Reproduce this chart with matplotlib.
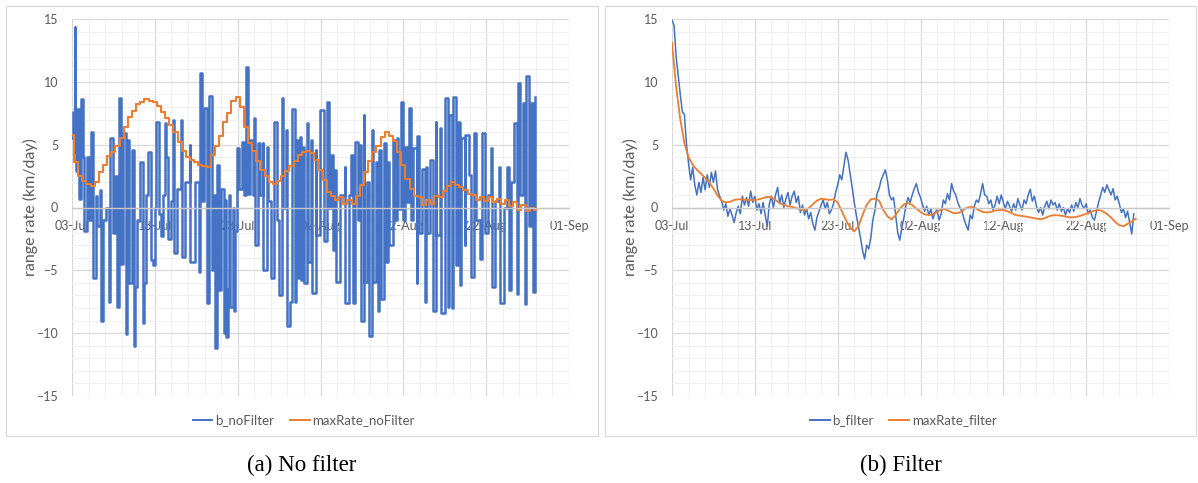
import numpy as np
import matplotlib
matplotlib.use('Agg')
import matplotlib.pyplot as plt
from matplotlib.patches import Rectangle
from matplotlib.lines import Line2D
from matplotlib.ticker import MultipleLocator

# x axis: days since 03-Jul
date_ticks = [0, 10, 20, 30, 40, 50, 60]
date_labels = ['03-Jul', '13-Jul', '23-Jul', '02-Aug', '12-Aug', '22-Aug', '01-Sep']

# (a) b_noFilter: read spike by spike (day, km/day)
nofilter_t = [
    0.00, 0.10, 0.33, 0.42, 0.50, 0.64, 0.80, 1.12, 1.29, 1.49,
    1.85, 2.10, 2.33, 2.50, 2.86, 3.05, 3.38, 3.54, 3.80, 4.10,
    4.50, 4.59, 4.90, 5.20, 5.47, 5.72, 5.95, 6.20, 6.53, 6.70,
    6.90, 7.20, 7.49, 7.65, 7.90, 8.20, 8.53, 8.65, 8.95, 9.20,
    9.50, 9.82, 10.00, 10.20, 10.50, 10.80, 11.00, 11.20, 11.40, 11.60,
    11.90, 12.20, 12.30, 12.70, 13.20, 13.30, 13.70, 14.25, 14.30, 14.80,
    15.30, 15.46, 15.70, 15.98, 16.30, 16.50, 16.90, 17.10, 17.30, 17.50,
    17.70, 18.00, 18.30, 18.50, 18.60, 18.80, 19.00, 19.10, 19.40, 19.50,
    19.70, 19.97, 20.20, 20.50, 20.80, 21.00, 21.30, 21.50, 21.80, 22.00,
    22.10, 22.50, 22.70, 23.00, 23.10, 23.50, 23.70, 24.00, 24.40, 24.70,
    25.00, 25.30, 25.50, 25.80, 26.00, 26.30, 26.50, 26.90, 27.00, 27.30,
    27.50, 27.70, 27.90, 28.00, 28.40, 28.45, 28.90, 28.95, 29.40, 29.45,
    29.95, 30.40, 30.80, 31.00, 31.30, 31.50, 31.80, 31.90, 32.40, 32.90,
    32.95, 33.40, 33.70, 33.90, 34.20, 34.50, 34.70, 34.90, 35.20, 35.30,
    35.60, 35.90, 36.20, 36.30, 36.70, 36.90, 37.10, 37.30, 37.70, 37.90,
    38.20, 38.30, 38.70, 39.00, 39.20, 39.40, 39.70, 39.90, 40.20, 40.40,
    40.70, 40.90, 41.20, 41.60, 41.70, 41.90, 42.20, 42.60, 42.70, 42.90,
    43.20, 43.60, 43.90, 44.00, 44.40, 44.50, 45.00, 45.40, 45.50, 45.90,
    46.00, 46.40, 46.60, 46.90, 47.00, 47.40, 47.50, 47.90, 48.20, 48.50,
    48.80, 49.30, 49.50, 49.90, 50.20, 50.60, 50.70, 51.10, 51.60, 51.70,
    52.10, 52.50, 52.70, 53.00, 53.40, 53.70, 53.80, 54.10, 54.40, 54.70,
    54.80, 55.20, 55.40, 55.70, 55.90,
]
nofilter_v = [
    5.5, 7.6, 14.4, 4.4, 2.9, 7.8, 0.7, 8.6, 4.0, -1.9,
    4.0, -1.0, 6.0, -5.6, 0.9, -1.5, 1.4, -9.0, -1.0, 0.0,
    -7.5, 5.5, -2.0, 2.5, -7.9, 8.7, -4.5, 5.9, -10.1, 5.4,
    -6.0, 4.6, -11.0, -6.3, -1.0, 3.6, -9.2, -6.0, 1.0, 4.4,
    -4.2, -4.6, 0.0, 6.8, -0.5, -2.3, 1.0, 6.7, 4.0, -2.5,
    0.5, 7.0, -3.6, 1.5, 7.0, -3.9, 2.0, 5.0, -4.3, 2.0,
    -5.1, 10.7, 0.5, 7.9, -7.6, 8.9, -5.0, 1.0, -11.2, 3.4,
    -6.6, 1.5, -10.0, 0.6, -10.3, -6.5, 1.0, -7.9, 0.0, -8.2,
    -1.9, 4.7, 1.5, 5.2, 1.0, 11.2, 1.1, 5.4, 1.0, 7.1,
    -3.0, 5.1, 1.0, 5.1, -5.0, 4.8, 0.5, -5.6, 6.8, -1.0,
    -7.0, 8.7, 0.0, 6.2, -9.4, -7.5, 7.8, -7.5, 5.4, -5.6,
    5.6, -5.8, 4.8, -6.0, 6.7, -4.3, 5.4, -6.8, 4.6, -2.2,
    7.75, -2.7, 8.4, 0.0, 4.2, -3.4, 3.0, -5.9, 1.0, 3.2,
    -7.6, 1.0, 4.2, -7.6, 5.2, -1.0, 5.0, -9.0, 7.4, -5.9,
    2.0, -10.2, 6.2, -5.9, 3.6, -8.2, 4.6, -7.3, 5.1, -4.3,
    3.6, -3.0, 5.4, -1.0, 5.5, -0.1, 8.4, -1.0, 4.8, 0.4,
    7.9, -1.0, 4.7, -6.0, 5.7, -2.0, 3.1, -7.5, 3.2, -2.0,
    3.8, -8.2, 6.8, -2.2, 6.3, -8.4, 8.7, -7.9, 7.4, -8.0,
    8.8, -4.6, 6.8, -6.2, 5.5, -3.0, 5.8, 2.6, -5.5, 5.9,
    -1.0, -4.1, 5.9, -2.0, 1.0, 4.7, -6.3, 0.5, 3.2, -7.6,
    0.0, 3.2, -6.6, 2.0, 6.7, -6.9, 9.9, 1.0, 8.3, -7.7,
    10.5, -1.5, 8.3, -6.7, 8.8,
]

# (a) maxRate_noFilter, every half day
maxrate_nofilter = [
    5.8, 3.6, 2.5, 2.1, 1.9, 1.7, 2.0, 2.8, 3.4, 4.1,
    4.4, 4.9, 5.5, 6.4, 7.2, 7.7, 8.2, 8.4, 8.6, 8.5,
    8.4, 8.1, 7.6, 7.1, 6.6, 6.0, 5.2, 4.5, 4.0, 3.8,
    3.6, 3.4, 3.3, 3.2, 4.2, 4.9, 5.7, 6.8, 7.5, 8.5,
    8.8, 8.0, 6.4, 5.1, 4.5, 3.7, 3.0, 2.5, 2.0, 1.9,
    2.1, 2.5, 2.9, 3.3, 3.7, 4.2, 4.4, 4.5, 4.3, 3.8,
    3.0, 2.2, 1.2, 0.9, 0.6, 0.8, 0.3, 0.6, 0.3, 0.9,
    1.8, 2.8, 3.7, 4.4, 4.9, 5.6, 6.0, 5.7, 5.3, 4.4,
    3.4, 2.3, 1.5, 0.9, 0.8, 0.2, 0.6, 0.3, 0.9, 0.8,
    1.3, 1.7, 2.0, 1.8, 1.6, 1.4, 1.1, 1.0, 0.6, 0.8,
    0.5, 0.8, 0.4, 0.7, 0.3, 0.6, 0.1, 0.4, -0.2, 0.2,
    -0.3, 0.0, -0.2,
]

# (b) b_filter, every quarter day
b_filter = [
    14.9, 14.5, 12.0, 10.5, 9.0, 7.6, 7.4, 5.0,
    3.5, 2.2, 3.2, 1.8, 1.0, 2.0, 1.2, 2.4,
    1.4, 2.6, 1.6, 2.8, 2.0, 2.9, 1.4, 0.9,
    0.5, -0.2, 0.3, -0.7, -0.1, -0.6, -1.2, -0.4,
    0.1, -0.5, 0.9, 0.2, 0.8, 0.1, 1.3, 0.4,
    0.9, -0.2, 0.3, -0.5, 0.4, -0.6, -1.5, 0.3,
    0.9, 0.0, 1.0, 1.6, 0.3, 1.0, 0.0, 0.7,
    1.2, 0.2, 0.9, 1.3, 0.4, 0.9, -0.4, 0.2,
    -0.6, -0.1, -0.9, -0.4, -1.3, -1.8, -0.8, -0.3,
    0.2, 0.6, -0.1, 0.4, -0.5, -0.2, 0.3, 1.2,
    1.8, 2.6, 2.2, 3.3, 4.4, 3.8, 2.7, 1.6,
    0.4, -0.6, -1.5, -2.4, -3.4, -4.1, -3.0, -3.3,
    -2.4, -1.0, -0.2, 1.1, 1.5, 2.2, 2.6, 3.0,
    2.2, 1.0, 0.6, 0.8, -0.6, -2.0, -2.6, -1.6,
    -0.8, 0.2, 0.8, 0.4, 1.0, 1.5, 1.9, 1.2,
    0.8, 0.2, -0.3, 0.1, -0.6, -0.1, -0.9, -0.4,
    -0.2, -1.0, -0.5, 0.6, 0.3, 1.1, 0.6, 1.9,
    1.3, 1.0, 0.4, 0.0, -0.3, -0.9, -1.4, -1.8,
    -0.6, -0.9, 0.1, 0.6, 0.4, 1.1, 1.9, 1.0,
    0.9, 0.3, 0.6, -0.2, 0.2, 0.9, 0.3, 1.0,
    0.4, -0.1, 0.5, 0.1, -0.3, 0.3, -0.2, 0.7,
    0.2, -0.2, 0.6, 0.3, 1.0, 1.45, 0.5, 0.9,
    0.1, -0.4, 0.0, -0.6, 0.1, 0.5, -0.1, 0.6,
    0.2, 0.4, -0.2, 0.3, -0.3, 0.0, -0.6, -0.1,
    -0.4, 0.2, -0.3, 0.4, 0.0, 0.7, 0.2, -0.1,
    0.3, -0.5, -0.2, -0.8, -1.0, -0.3, 0.4, 1.0,
    1.6, 1.2, 1.8, 1.4, 1.0, 1.5, 0.6, 0.9,
    0.3, -0.4, -0.1, -0.8, -0.3, -1.2, -2.1, -0.5,
]

# (b) maxRate_filter, every half day
maxrate_filter = [
    13.1, 9.6, 7.0, 5.1, 4.0, 3.4, 3.0, 2.7, 2.35, 2.0,
    1.5, 0.95, 0.55, 0.4, 0.45, 0.6, 0.65, 0.65, 0.6, 0.58,
    0.6, 0.65, 0.75, 0.85, 0.8, 0.6, 0.35, 0.2, 0.1, 0.05,
    -0.05, -0.15, -0.2, -0.05, 0.25, 0.55, 0.7, 0.65, 0.6, 0.65,
    0.4, -0.3, -1.0, -1.6, -1.9, -1.5, -0.6, 0.2, 0.65, 0.7,
    0.55, -0.2, -0.7, -0.95, -0.6, -0.1, 0.25, 0.35, 0.2, -0.1,
    -0.35, -0.55, -0.6, -0.55, -0.35, -0.15, -0.15, -0.3, -0.45, -0.45,
    -0.3, -0.05, 0.05, 0.0, -0.2, -0.35, -0.4, -0.35, -0.25, -0.2,
    -0.2, -0.3, -0.45, -0.6, -0.65, -0.7, -0.75, -0.82, -0.88, -0.93,
    -0.85, -0.7, -0.62, -0.62, -0.65, -0.72, -0.78, -0.78, -0.72, -0.62,
    -0.5, -0.38, -0.25, -0.2, -0.3, -0.5, -0.8, -1.15, -1.4, -1.5,
    -1.3, -1.1, -0.9,
]

BLUE = '#4472C4'
ORANGE = '#ED7D31'
TXT = '#595959'
W, H = 1198, 483

plt.rcParams['font.family'] = ['Lato', 'DejaVu Sans']

fig = plt.figure(figsize=(W / 100, H / 100), dpi=100)


def px_axes(x0, y0, x1, y1):
    return fig.add_axes([x0 / W, 1 - y1 / H, (x1 - x0) / W, (y1 - y0) / H])


def chart_box(x0, y0, x1, y1):
    fig.patches.append(Rectangle((x0 / W, 1 - y1 / H), (x1 - x0) / W, (y1 - y0) / H,
                                 transform=fig.transFigure, fill=False,
                                 edgecolor='#D9D9D9', lw=0.9))


def style(ax):
    ax.set_xlim(0, 60)
    ax.set_ylim(-15, 15)
    ax.set_xticks(date_ticks, date_labels)
    ax.xaxis.set_minor_locator(MultipleLocator(2))
    ax.yaxis.set_major_locator(MultipleLocator(5))
    ax.yaxis.set_minor_locator(MultipleLocator(1))
    ax.grid(which='minor', color='#F0F0F0', lw=0.8)
    ax.grid(which='major', color='#D9D9D9', lw=0.9)
    ax.set_axisbelow(True)
    for s in ['top', 'right', 'left']:
        ax.spines[s].set_visible(False)
    ax.spines['bottom'].set_position(('data', 0))
    ax.spines['bottom'].set_color('#C8C8C8')
    ax.spines['bottom'].set_linewidth(1.0)
    ax.tick_params(which='both', length=0, colors=TXT, labelsize=9)
    ax.tick_params(axis='x', pad=9)
    ax.tick_params(axis='y', pad=10)


# (a) No filter
chart_box(6, 6, 598, 436)
ax1 = px_axes(72, 19, 569, 396)
style(ax1)
ax1.plot(nofilter_t, nofilter_v, color=BLUE, lw=1.8, drawstyle='steps-post')
t_half = np.arange(len(maxrate_nofilter)) * 0.5
ax1.plot(t_half, maxrate_nofilter, color=ORANGE, lw=1.5, drawstyle='steps-mid')
ax1.legend([Line2D([], [], color=BLUE, lw=1.4), Line2D([], [], color=ORANGE, lw=1.4)],
           ['b_noFilter', 'maxRate_noFilter'], loc='center',
           bbox_to_anchor=(0.466, -0.064), ncol=2, frameon=False, fontsize=9.5,
           handlelength=1.5, handletextpad=0.2, columnspacing=1.2, labelcolor=TXT)
fig.text(30 / W, 1 - 207 / H, 'range rate (km/day)', rotation=90, ha='center',
         va='center', fontsize=11.5, color=TXT)
fig.text(302 / W, 1 - 465 / H, '(a) No filter', ha='center', va='center',
         family='Liberation Serif', fontsize=16.5, color='black')

# (b) Filter
chart_box(605, 6, 1196, 436)
ax2 = px_axes(672, 19, 1169, 396)
style(ax2)
t_quarter = np.arange(len(b_filter)) * 0.25
ax2.plot(t_quarter, b_filter, color=BLUE, lw=1.1)
ax2.plot(np.arange(len(maxrate_filter)) * 0.5, maxrate_filter, color=ORANGE, lw=1.3)
ax2.legend([Line2D([], [], color=BLUE, lw=1.4), Line2D([], [], color=ORANGE, lw=1.4)],
           ['b_filter', 'maxRate_filter'], loc='center',
           bbox_to_anchor=(0.465, -0.064), ncol=2, frameon=False, fontsize=9.5,
           handlelength=1.5, handletextpad=0.2, columnspacing=1.2, labelcolor=TXT)
fig.text(630 / W, 1 - 207 / H, 'range rate (km/day)', rotation=90, ha='center',
         va='center', fontsize=11.5, color=TXT)
fig.text(901 / W, 1 - 465 / H, '(b) Filter', ha='center', va='center',
         family='Liberation Serif', fontsize=16.5, color='black')

fig.savefig('out.png', dpi=100)
